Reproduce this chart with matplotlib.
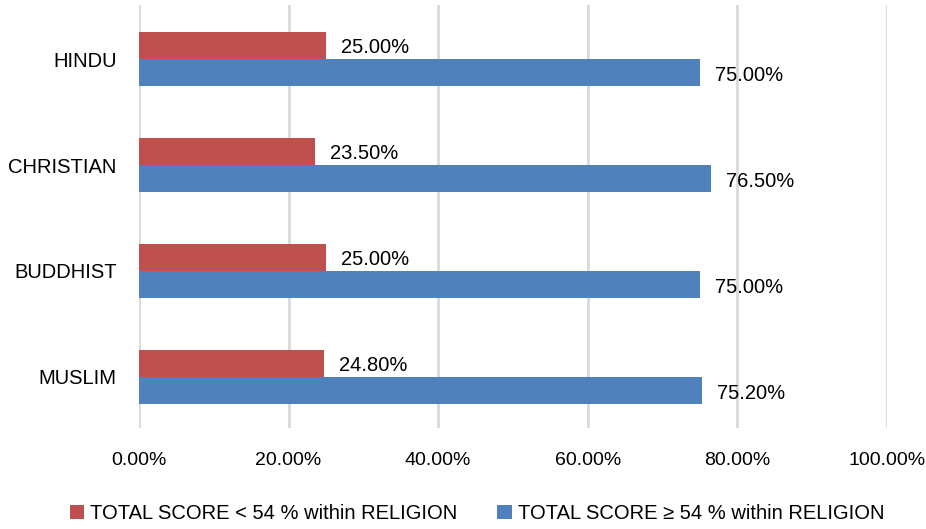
import numpy as np
import matplotlib.pyplot as plt

plt.rcParams['font.family'] = ['Liberation Sans', 'DejaVu Sans']

# data
religions = ['HINDU', 'CHRISTIAN', 'BUDDHIST', 'MUSLIM']
below_54 = [25.00, 23.50, 25.00, 24.80]
above_54 = [75.00, 76.50, 75.00, 75.20]
xticks = [0, 20, 40, 60, 80, 100]
label_below = 'TOTAL SCORE < 54 % within RELIGION'
label_above = 'TOTAL SCORE \u2265 54 % within RELIGION'

red = '#C0504D'
blue = '#4F81BD'

fig = plt.figure(figsize=(9.26, 5.29), dpi=100)
ax = fig.add_axes([0.150, 0.190, 0.808, 0.800])

y = np.arange(len(religions))
h = 0.255
b1 = ax.barh(y - h / 2, below_54, height=h, color=red, label=label_below, zorder=3)
b2 = ax.barh(y + h / 2, above_54, height=h, color=blue, label=label_above, zorder=3)

# value labels
for yy, v in zip(y, below_54):
    ax.text(v + 2.0, yy - h / 2 + 0.02, '%.2f%%' % v, va='center', ha='left', fontsize=14.5)
for yy, v in zip(y, above_54):
    ax.text(v + 2.0, yy + h / 2 + 0.03, '%.2f%%' % v, va='center', ha='left', fontsize=14.5)

ax.set_ylim(3.49, -0.51)
ax.set_xlim(0, 100)
ax.set_yticks(y)
ax.set_yticklabels(religions, fontsize=14.5)
ax.set_xticks(xticks)
ax.set_xticklabels(['%.2f%%' % t for t in xticks], fontsize=14)
ax.tick_params(axis='both', length=0)
ax.tick_params(axis='y', pad=16)
ax.tick_params(axis='x', pad=17)

ax.grid(axis='x', color='#D9D9D9', linewidth=2, zorder=0)
for s in ax.spines.values():
    s.set_visible(False)

fig.legend(handles=[b1, b2], loc='center', bbox_to_anchor=(0.515, 0.03), ncol=2,
           frameon=False, fontsize=14.5, handlelength=0.7, handleheight=0.7,
           handletextpad=0.3, columnspacing=2.0)

plt.savefig('out.png', dpi=100)
